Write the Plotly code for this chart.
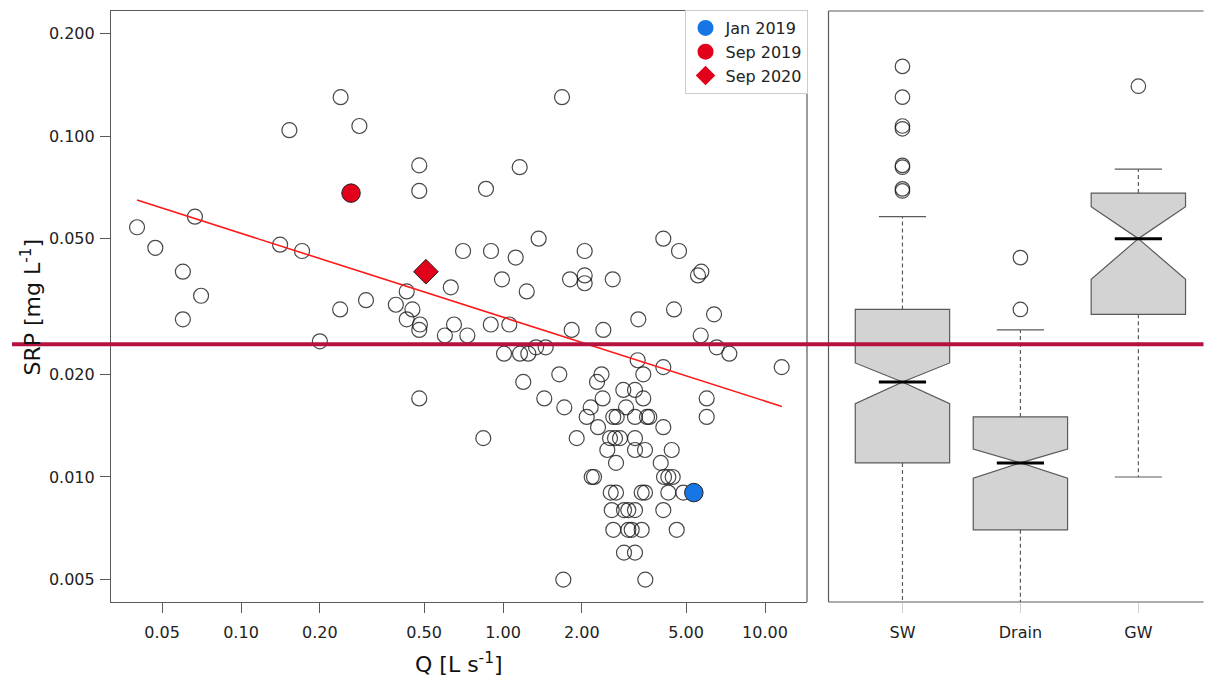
import plotly.graph_objects as go

# ---------------------------------------------------------------
# Discharge Q [L s-1] and soluble reactive phosphorus SRP [mg L-1]
# ---------------------------------------------------------------
q_all = [
    0.0401, 0.0471, 0.0600, 0.0667, 0.0704, 0.0600, 0.153, 0.240, 0.283, 0.141,
    0.171, 0.200, 0.239, 0.300, 0.390, 0.429, 0.451, 0.429, 0.482, 0.479,
    0.479, 0.479, 0.479, 0.632, 0.650, 0.600, 0.731, 0.704, 0.900, 1.118,
    0.861, 1.158, 1.368, 1.680, 0.991, 1.232, 0.898, 1.057, 0.841, 1.009,
    1.161, 1.249, 1.337, 1.455, 1.195, 1.640, 1.437, 1.714, 1.802, 2.050,
    2.050, 2.050, 2.623, 1.829, 2.415, 3.284, 4.091, 4.697, 5.713, 5.549,
    4.495, 6.389, 5.683, 6.542, 7.308, 11.58, 3.267, 4.091, 3.431, 2.377,
    2.285, 2.401, 2.879, 3.190, 3.431, 2.948, 2.161, 2.087, 2.636, 2.716,
    3.190, 3.545, 3.617, 2.305, 4.091, 5.991, 5.991, 1.911, 2.561, 2.676,
    2.796, 3.190, 2.501, 3.190, 3.483, 4.405, 2.700, 3.999, 2.181, 2.225,
    4.117, 4.275, 4.443, 2.577, 2.700, 3.383, 3.483, 4.275, 4.879, 2.600,
    2.896, 3.008, 3.190, 4.091, 2.636, 3.008, 3.099, 3.383, 4.603, 2.896,
    3.190, 1.699, 3.493,
]
srp_all = [
    0.054, 0.047, 0.040, 0.058, 0.034, 0.029, 0.104, 0.130, 0.107, 0.048,
    0.046, 0.025, 0.031, 0.033, 0.032, 0.035, 0.031, 0.029, 0.028, 0.027,
    0.082, 0.069, 0.017, 0.036, 0.028, 0.026, 0.026, 0.046, 0.046, 0.044,
    0.070, 0.081, 0.050, 0.130, 0.038, 0.035, 0.028, 0.028, 0.013, 0.023,
    0.023, 0.023, 0.024, 0.024, 0.019, 0.020, 0.017, 0.016, 0.038, 0.039,
    0.037, 0.046, 0.038, 0.027, 0.027, 0.029, 0.050, 0.046, 0.040, 0.039,
    0.031, 0.030, 0.026, 0.024, 0.023, 0.021, 0.022, 0.021, 0.020, 0.020,
    0.019, 0.017, 0.018, 0.018, 0.017, 0.016, 0.016, 0.015, 0.015, 0.015,
    0.015, 0.015, 0.015, 0.014, 0.014, 0.017, 0.015, 0.013, 0.013, 0.013,
    0.013, 0.013, 0.012, 0.012, 0.012, 0.012, 0.011, 0.011, 0.010, 0.010,
    0.010, 0.010, 0.010, 0.009, 0.009, 0.009, 0.009, 0.009, 0.009, 0.008,
    0.008, 0.008, 0.008, 0.008, 0.007, 0.007, 0.007, 0.007, 0.007, 0.006,
    0.006, 0.005, 0.005,
]

# Highlighted sampling campaigns
event_names = ["Jan 2019", "Sep 2019", "Sep 2020"]
event_q = [5.35, 0.263, 0.508]
event_srp = [0.009, 0.068, 0.040]
event_colors = ["#1677E4", "#E2001A", "#E2001A"]
event_symbols = ["circle", "circle", "diamond"]
event_sizes = [18.5, 18.5, 19]
legend_sizes = [16, 16, 15]

# Log-log regression of SRP on Q (end points of the fitted line)
fit_q = [0.0401, 11.6]
fit_srp = [0.0649, 0.0161]

# SRP reference level drawn across both panels
srp_threshold = 0.0245

# Box plot statistics per water type
groups = ["SW", "Drain", "GW"]
box_q1 = [0.011, 0.007, 0.030]
box_median = [0.019, 0.011, 0.050]
box_q3 = [0.031, 0.015, 0.068]
box_lower = [0.003, 0.003, 0.010]
box_upper = [0.058, 0.027, 0.080]
box_notch = [0.0026, 0.00108, 0.012]
box_outliers = [
    [0.160, 0.130, 0.107, 0.105, 0.082, 0.081, 0.070, 0.069],
    [0.044, 0.031],
    [0.140],
]

# Axis ticks
q_ticks = [0.05, 0.1, 0.2, 0.5, 1, 2, 5, 10]
q_ticktext = ["0.05", "0.10", "0.20", "0.50", "1.00", "2.00", "5.00", "10.00"]
srp_ticks = [0.005, 0.01, 0.02, 0.05, 0.1, 0.2]
srp_ticktext = ["0.005", "0.010", "0.020", "0.050", "0.100", "0.200"]

FONT = "DejaVu Sans"
FRAME = "#5a5a5a"
BOX_W = 0.8          # box width in category units
HALF = BOX_W / 2

fig = go.Figure()

# --- scatter panel --------------------------------------------------
fig.add_trace(go.Scatter(
    x=q_all, y=srp_all, mode="markers", showlegend=False, hoverinfo="skip",
    marker=dict(size=15, color="rgba(0,0,0,0)",
                line=dict(color="rgba(20,20,20,0.78)", width=1.2)),
    xaxis="x", yaxis="y",
))

fig.add_trace(go.Scatter(
    x=fit_q, y=fit_srp, mode="lines", showlegend=False, hoverinfo="skip",
    line=dict(color="#FF1A1A", width=1.6), xaxis="x", yaxis="y",
))

for name, q, s, c, sym, sz in zip(event_names, event_q, event_srp,
                                  event_colors, event_symbols, event_sizes):
    fig.add_trace(go.Scatter(
        x=[q], y=[s], mode="markers", showlegend=False, hoverinfo="skip",
        marker=dict(size=sz, color=c, symbol=sym,
                    line=dict(color="#222222", width=1)),
        xaxis="x", yaxis="y",
    ))

# legend entries (plain coloured symbols)
for name, c, sym, sz in zip(event_names, event_colors, event_symbols, legend_sizes):
    fig.add_trace(go.Scatter(
        x=[None], y=[None], mode="markers", name=name,
        marker=dict(size=sz, color=c, symbol=sym, line=dict(width=0)),
        xaxis="x", yaxis="y",
    ))

# --- box plot panel ---------------------------------------------------
pos = list(range(len(groups)))

# dashed whiskers and solid caps
wx, wy, cx, cy = [], [], [], []
for i in pos:
    wx += [i, i, None, i, i, None]
    wy += [box_q3[i], box_upper[i], None, box_q1[i], box_lower[i], None]
    cx += [i - HALF / 2, i + HALF / 2, None, i - HALF / 2, i + HALF / 2, None]
    cy += [box_upper[i], box_upper[i], None, box_lower[i], box_lower[i], None]
fig.add_trace(go.Scatter(
    x=wx, y=wy, mode="lines", showlegend=False, hoverinfo="skip",
    line=dict(color=FRAME, width=1.2, dash="4px,3px"), xaxis="x2", yaxis="y2",
))
fig.add_trace(go.Scatter(
    x=cx, y=cy, mode="lines", showlegend=False, hoverinfo="skip",
    line=dict(color=FRAME, width=1.2), xaxis="x2", yaxis="y2",
))

fig.add_trace(go.Box(
    x=pos, q1=box_q1, median=box_median, q3=box_q3,
    lowerfence=box_q1, upperfence=box_q3, notchspan=box_notch,
    notched=True, notchwidth=0.5, width=BOX_W, whiskerwidth=0,
    boxpoints=False, fillcolor="#D3D3D3",
    line=dict(color=FRAME, width=1.2), showlegend=False, hoverinfo="skip",
    xaxis="x2", yaxis="y2",
))

# thick median bars
mx, my = [], []
for i in pos:
    mx += [i - HALF / 2, i + HALF / 2, None]
    my += [box_median[i], box_median[i], None]
fig.add_trace(go.Scatter(
    x=mx, y=my, mode="lines", showlegend=False, hoverinfo="skip",
    line=dict(color="#000000", width=3), xaxis="x2", yaxis="y2",
))

# outliers
ox, oy = [], []
for i in pos:
    ox += [i] * len(box_outliers[i])
    oy += box_outliers[i]
fig.add_trace(go.Scatter(
    x=ox, y=oy, mode="markers", showlegend=False, hoverinfo="skip",
    marker=dict(size=14.5, color="rgba(0,0,0,0)",
                line=dict(color="rgba(20,20,20,0.78)", width=1.2)),
    xaxis="x2", yaxis="y2",
))

W, H = 1205, 682
y_dom = [1 - 602 / H, 1 - 11 / H]
y_range = [-2.3666, -0.6334]
x1_dom = [111 / W, 807 / W]
x2_dom = [828.5 / W, 1.0]
x2_range = [-0.627, 2.565]
right_edge = 1203.5 / W

tickfont = dict(family=FONT, size=16, color="#222222")


def frame_line(x0, x1, y0, y1):
    return dict(type="line", xref="paper", yref="paper", layer="above",
                x0=x0, x1=x1, y0=y0, y1=y1,
                line=dict(color=FRAME, width=1.2))


fig.update_layout(
    width=W, height=H,
    margin=dict(l=0, r=0, t=0, b=0),
    paper_bgcolor="white", plot_bgcolor="white",
    font=dict(family=FONT, color="#222222"),
    xaxis=dict(
        type="log", domain=x1_dom, range=[-1.4962, 1.1603],
        tickvals=q_ticks, ticktext=q_ticktext, tickfont=tickfont,
        ticks="outside", ticklen=10, tickwidth=1.2, tickcolor=FRAME,
        showline=True, linecolor=FRAME, linewidth=1.2, mirror=True,
        showgrid=False, zeroline=False, ticklabelstandoff=6,
    ),
    yaxis=dict(
        type="log", domain=y_dom, range=y_range,
        tickvals=srp_ticks, ticktext=srp_ticktext, tickfont=tickfont,
        ticks="outside", ticklen=10, tickwidth=1.2, tickcolor=FRAME,
        showline=True, linecolor=FRAME, linewidth=1.2, mirror=False,
        showgrid=False, zeroline=False, ticklabelstandoff=2,
    ),
    xaxis2=dict(
        domain=x2_dom, range=x2_range, anchor="y2",
        tickvals=pos, ticktext=groups, tickfont=tickfont,
        ticks="outside", ticklen=10, tickwidth=1.2, tickcolor="#cfcfcf",
        showline=False, showgrid=False, zeroline=False, ticklabelstandoff=6,
    ),
    yaxis2=dict(
        type="log", domain=y_dom, range=y_range, anchor="x2",
        showticklabels=False, ticks="", showline=False,
        showgrid=False, zeroline=False,
    ),
    legend=dict(
        x=807.5 / W, xanchor="right", y=1 - 10 / H, yanchor="top",
        bgcolor="white", bordercolor="#cccccc", borderwidth=1,
        font=dict(family=FONT, size=16, color="#222222"),
        itemsizing="trace", tracegroupgap=0,
    ),
    shapes=[
        # right frame of the scatter panel
        frame_line(x1_dom[1], x1_dom[1], y_dom[0], y_dom[1]),
        # box plot panel frame: left, top and bottom (open on the right)
        frame_line(x2_dom[0], x2_dom[0], y_dom[0], y_dom[1]),
        frame_line(x2_dom[0], right_edge, y_dom[1], y_dom[1]),
        frame_line(x2_dom[0], right_edge, y_dom[0], y_dom[0]),
        dict(type="line", xref="paper", yref="y", layer="above",
             x0=12 / W, x1=right_edge, y0=srp_threshold, y1=srp_threshold,
             line=dict(color="#B5123F", width=4)),
    ],
    annotations=[
        dict(text="Q [L s<sup>-1</sup>]", xref="paper", yref="paper",
             x=459 / W, y=1 - 663 / H, xanchor="center", yanchor="middle",
             showarrow=False, font=dict(family=FONT, size=22, color="#111111")),
        dict(text="SRP [mg L<sup>-1</sup>]", xref="paper", yref="paper",
             x=30 / W, y=1 - 307.5 / H, xanchor="center", yanchor="middle",
             textangle=-90, showarrow=False,
             font=dict(family=FONT, size=22, color="#111111")),
    ],
)

fig.write_html("out.html")
